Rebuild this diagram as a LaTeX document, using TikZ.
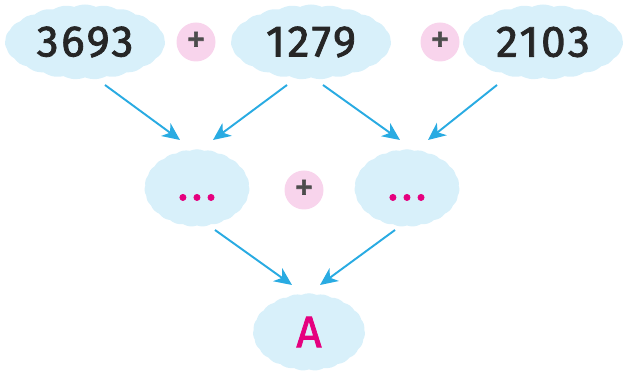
\documentclass[tikz,border=0pt]{standalone}
\usepackage{fontspec}
\setmainfont{Fira Sans}
\usepackage{tikz}
\usetikzlibrary{positioning, arrows.meta, calc, shapes.symbols}
\definecolor{cloudblue}{HTML}{D8F0FA}
\definecolor{pluspink}{HTML}{F8D4EC}
\definecolor{arrowcyan}{HTML}{29ABE2}
\definecolor{dotmagenta}{HTML}{E5007E}
\newfontfamily\numfont[LetterSpace=6, FakeBold=1.8]{Fira Sans}
\tikzstyle{arrow} = [line width=1.1pt,-{Stealth[length=10pt,width=9pt,inset=3pt]},draw=arrowcyan]

\begin{document}
\begin{tikzpicture}
                    \tikzstyle{every node}=[font=\numfont\fontsize{25}{28}\selectfont, text=black!85]
                    \tikzstyle{blob} = [cloud, cloud puffs=23, cloud puff arc=50, cloud ignores aspect, fill=cloudblue, draw=none, inner sep=0pt]
                    \tikzstyle{topblob} = [blob, minimum width=3.2cm, minimum height=1.5cm]
                    \tikzstyle{midblob} = [blob, minimum width=2.1cm, minimum height=1.55cm]
                    \tikzstyle{plusdot} = [circle, fill=pluspink, minimum size=0.78cm, inner sep=0pt, text=black!70, font=\numfont\fontsize{22}{22}\selectfont]
                    \tikzstyle{hole} = [text=dotmagenta, font=\numfont\fontsize{25}{28}\selectfont]

                    \useasboundingbox (0,0) rectangle (12.52,7.48);

                    % top row
                    \node[topblob](t1) at (1.70,6.64) {3693};
                    \node[plusdot](p1) at (3.92,6.64) {+};
                    \node[topblob](t2) at (6.22,6.64) {1279};
                    \node[plusdot](p2) at (8.80,6.64) {+};
                    \node[topblob](t3) at (10.86,6.64) {2103};

                    % middle row
                    \node[midblob, hole, text height=0.48cm, text depth=0pt](m1) at (3.94,3.72) {.\hspace{2pt}.\hspace{2pt}.};
                    \node[plusdot](p3) at (6.08,3.68) {+};
                    \node[midblob, hole, text height=0.48cm, text depth=0pt](m2) at (8.14,3.72) {.\hspace{2pt}.\hspace{2pt}.};

                    % bottom
                    \node[midblob, hole, minimum width=2.24cm](b) at (6.18,0.84) {A};

                    \draw[arrow] ($(t1)+(0.40,-0.86)$) -- ($(m1)+(-0.34,0.96)$);
                    \draw[arrow] ($(t2)+(-0.48,-0.86)$) -- ($(m1)+(0.32,0.96)$);
                    \draw[arrow] ($(t2)+(0.24,-0.86)$) -- ($(m2)+(-0.14,0.96)$);
                    \draw[arrow] ($(t3)+(-0.92,-0.86)$) -- ($(m2)+(0.42,0.96)$);
                    \draw[arrow] ($(m1)+(0.36,-0.84)$) -- ($(b)+(-0.34,0.94)$);
                    \draw[arrow] ($(m2)+(-0.24,-0.84)$) -- ($(b)+(0.22,0.94)$);
            \end{tikzpicture}
\end{document}
